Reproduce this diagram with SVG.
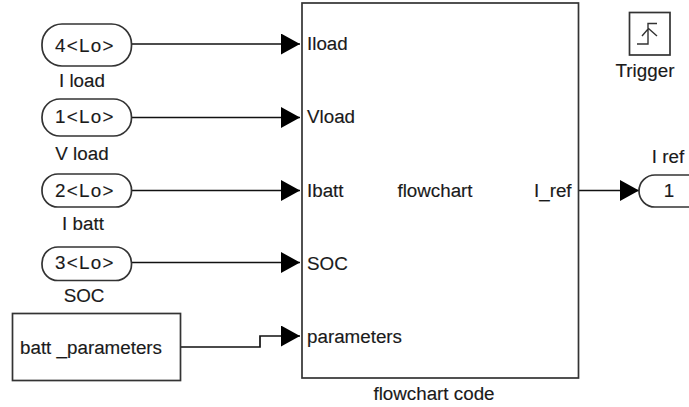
<svg xmlns="http://www.w3.org/2000/svg" width="689" height="407" viewBox="0 0 689 407">
<style>
text{font-family:"Liberation Sans",Arial,sans-serif;font-size:18.8px;fill:#1a1a1a;stroke:#1a1a1a;stroke-width:.15px}
.m{text-anchor:middle}
.lo{letter-spacing:1.3px}
.s{fill:#fff;stroke:#333;stroke-width:1.7}
.c{fill:none;stroke:#111;stroke-width:1.7}
</style>
<defs><marker id="a" markerUnits="userSpaceOnUse" markerWidth="20" markerHeight="22" refX="19" refY="10.5" orient="auto"><path d="M0 0L19 10.500L0 21Z" fill="#000"/></marker></defs>
<rect width="689" height="407" fill="#fff"/>
<g id="connectors">
<path class="c" d="M132 44H300" marker-end="url(#a)"/>
<path class="c" d="M132 117.500H300" marker-end="url(#a)"/>
<path class="c" d="M132 190.500H300" marker-end="url(#a)"/>
<path class="c" d="M132 262.500H300" marker-end="url(#a)"/>
<path class="c" d="M181 347H260V336H300" marker-end="url(#a)"/>
<path class="c" d="M579 190.500H639" marker-end="url(#a)"/>
</g>
<g id="n-iload"><rect class="s" x="42" y="24" width="89.500" height="42" rx="20" ry="20"/><text class="m lo" x="85" y="52">4&lt;Lo&gt;</text><text class="m" x="82" y="87">I load</text></g>
<g id="n-vload"><rect class="s" x="42" y="99" width="89.500" height="37" rx="18" ry="18"/><text class="m lo" x="85" y="123">1&lt;Lo&gt;</text><text class="m" x="82" y="160">V load</text></g>
<g id="n-ibatt"><rect class="s" x="42" y="174" width="89.500" height="33" rx="16" ry="16"/><text class="m lo" x="85" y="197">2&lt;Lo&gt;</text><text class="m" x="83" y="230">I batt</text></g>
<g id="n-soc"><rect class="s" x="42" y="247" width="89.500" height="33.500" rx="16" ry="16"/><text class="m lo" x="85" y="269">3&lt;Lo&gt;</text><text class="m" x="84" y="302">SOC</text></g>
<g id="n-params"><rect class="s" x="12.500" y="313.500" width="168" height="67"/><text x="20" y="354">batt _parameters</text></g>
<g id="n-flowchart"><rect class="s" x="302" y="3" width="276.500" height="375"/>
<text x="307" y="50">Iload</text><text x="307" y="123">Vload</text><text x="307" y="197">Ibatt</text><text x="307" y="270">SOC</text><text x="307" y="343">parameters</text>
<text class="m" x="435" y="197">flowchart</text><text x="534" y="197">I_ref</text><text class="m" x="434" y="400">flowchart code</text></g>
<g id="n-trigger"><rect class="s" x="629.500" y="12.500" width="40.500" height="42.500"/><path fill="none" stroke="#333" stroke-width="1.400" d="M637 44H648V23.500H657M642 36L648.500 28.500L657 36"/><text class="m" x="645" y="77">Trigger</text></g>
<g id="n-iref"><rect class="s" x="639" y="175" width="70" height="32" rx="16" ry="16"/><text class="m" x="669" y="197">1</text><text class="m" x="668" y="163">I ref</text></g>
</svg>
